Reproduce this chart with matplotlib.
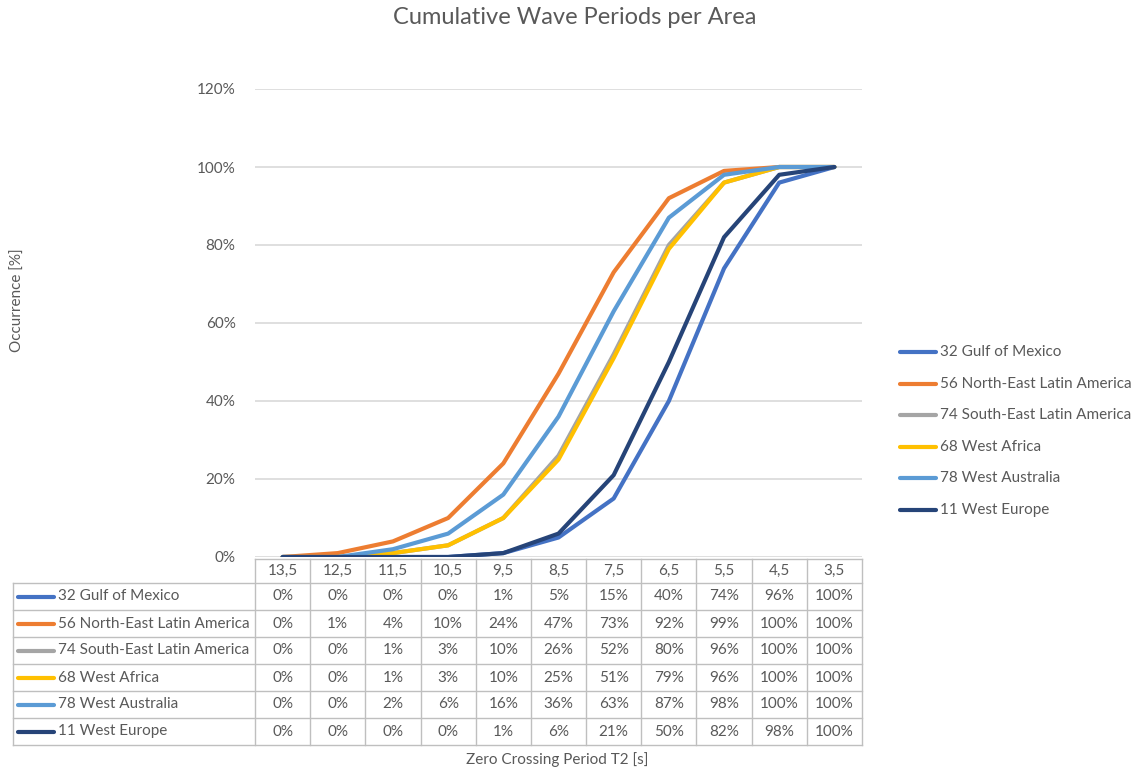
import numpy as np
import matplotlib.pyplot as plt

# zero crossing periods (s), plotted from long to short
periods = ["13,5", "12,5", "11,5", "10,5", "9,5", "8,5", "7,5", "6,5", "5,5", "4,5", "3,5"]

areas = ["32 Gulf of Mexico", "56 North-East Latin America", "74 South-East Latin America",
         "68 West Africa", "78 West Australia", "11 West Europe"]

# cumulative occurrence in percent
gulf_of_mexico = [0, 0, 0, 0, 1, 5, 15, 40, 74, 96, 100]
ne_latin_america = [0, 1, 4, 10, 24, 47, 73, 92, 99, 100, 100]
se_latin_america = [0, 0, 1, 3, 10, 26, 52, 80, 96, 100, 100]
west_africa = [0, 0, 1, 3, 10, 25, 51, 79, 96, 100, 100]
west_australia = [0, 0, 2, 6, 16, 36, 63, 87, 98, 100, 100]
west_europe = [0, 0, 0, 0, 1, 6, 21, 50, 82, 98, 100]

series = [gulf_of_mexico, ne_latin_america, se_latin_america,
          west_africa, west_australia, west_europe]
colors = ["#4472C4", "#ED7D31", "#A5A5A5", "#FFC000", "#5B9BD5", "#264478"]

txt = "#595959"
grid = "#D9D9D9"
border = "#BFBFBF"
fs = 11
plt.rcParams['font.family'] = ['Lato', 'DejaVu Sans']

W, H = 1144, 774
fig = plt.figure(figsize=(W / 100, H / 100), dpi=100)

# plot area in pixel coords
left, right, top, bottom = 255, 862, 89, 557
ax = fig.add_axes([left / W, 1 - bottom / H, (right - left) / W, (bottom - top) / H])
x = np.arange(len(periods))
for vals, c, name in zip(series, colors, areas):
    ax.plot(x, np.array(vals) / 100, color=c, lw=3, solid_capstyle='round', label=name)
ax.set_xlim(-0.5, len(periods) - 0.5)
ax.set_ylim(0, 1.2)
ax.set_yticks(np.arange(0, 1.21, 0.2))
ax.set_yticklabels([f"{int(round(v * 100))}%" for v in np.arange(0, 1.21, 0.2)])
ax.tick_params(axis='y', length=0, pad=14, labelsize=fs, labelcolor=txt)
ax.set_xticks([])
ax.grid(axis='y', color=grid, lw=1.2)
for s in ax.spines.values():
    s.set_visible(False)
ax.set_axisbelow(True)

# overlay in pixel coords for the data table and labels
ov = fig.add_axes([0, 0, 1, 1], zorder=-1)
ov.set_xlim(0, W)
ov.set_ylim(H, 0)
ov.axis('off')

col_w = (right - left) / len(periods)
head_top, head_bot = 559, 583
row_h = 27
tab_left = 13
n_rows = len(areas)
tab_bot = head_bot + n_rows * row_h

# header row
for i, p in enumerate(periods):
    ov.text(left + (i + 0.5) * col_w, (head_top + head_bot) / 2, p, ha='center', va='center',
            fontsize=fs, color=txt)
ov.plot([left, right], [head_top, head_top], color=border, lw=1)
for i in range(len(periods) + 1):
    xx = left + i * col_w
    ov.plot([xx, xx], [head_top, tab_bot], color=border, lw=1)
ov.plot([tab_left, tab_left], [head_bot, tab_bot], color=border, lw=1)
for r in range(n_rows + 1):
    yy = head_bot + r * row_h
    ov.plot([tab_left, right], [yy, yy], color=border, lw=1)

# body rows
for r, (vals, c, name) in enumerate(zip(series, colors, areas)):
    yc = head_bot + (r + 0.5) * row_h
    ov.plot([18, 54], [yc, yc], color=c, lw=3, solid_capstyle='round')
    ov.text(58, yc, name, ha='left', va='center', fontsize=fs, color=txt)
    for i, v in enumerate(vals):
        ov.text(left + (i + 0.5) * col_w, yc, f"{v}%", ha='center', va='center',
                fontsize=fs, color=txt)

# legend on the right
leg_y0, leg_dy = 352, 31.6
for r, (c, name) in enumerate(zip(colors, areas)):
    yc = leg_y0 + r * leg_dy
    ov.plot([900, 936], [yc, yc], color=c, lw=3, solid_capstyle='round')
    ov.text(940, yc, name, ha='left', va='center', fontsize=fs, color=txt)

ov.text(575, 18, "Cumulative Wave Periods per Area", ha='center', va='center',
        fontsize=17, color=txt)
ov.text(18, 300, "Occurrence [%]", ha='center', va='center', rotation=90,
        fontsize=fs, color=txt)
ov.text(557, 760, "Zero Crossing Period T2 [s]", ha='center', va='center',
        fontsize=fs, color=txt)

fig.savefig("out.png", dpi=100, facecolor='white')
